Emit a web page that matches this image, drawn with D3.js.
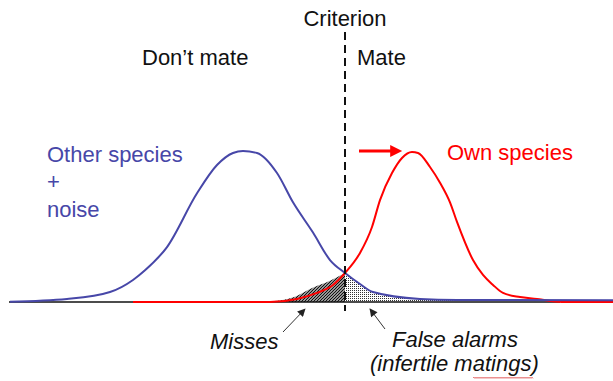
<!DOCTYPE html>
<html>
<head>
<meta charset="utf-8">
<script src="https://cdn.jsdelivr.net/npm/d3@7"></script>
<style>
    body { margin: 0; background: #fff; }
    svg { display: block; }
    text { font-family: "Liberation Sans", Arial, sans-serif; font-size: 22px; }
</style>
</head>
<body>
<svg id="chart" width="613" height="381"></svg>
<script>
// signal strength (arbitrary units) and relative frequency
const otherX = [0, 5.7, 10.0, 12.3, 13.5, 15.7, 18.7, 20.7, 22.3, 23.3, 24.7, 26.7, 28.3, 30.3, 32.0, 33.5, 35.0, 36.3, 41.0, 44.7, 60.3];
const otherY = [0.002, 0.02, 0.066, 0.146, 0.21, 0.364, 0.72, 0.907, 0.987, 1.0, 0.987, 0.854, 0.66, 0.46, 0.278, 0.192, 0.119, 0.066, 0.02, 0.013, 0.012];

const ownX = [12.3, 26.0, 28.7, 30.7, 32.3, 33.5, 35.0, 36.2, 37.0, 38.2, 39.2, 40.2, 40.8, 42.0, 43.0, 44.0, 44.7, 46.3, 47.3, 48.3, 49.3, 51.0, 52.7, 54.0, 55.5, 60.3];
const ownY = [0, 0, 0.02, 0.06, 0.113, 0.192, 0.325, 0.497, 0.675, 0.854, 0.954, 0.993, 0.987, 0.894, 0.79, 0.66, 0.53, 0.278, 0.179, 0.113, 0.06, 0.033, 0.02, 0.007, 0, 0];

// top edge of the hatched "misses" patch
const missesX = [25.5, 28.5, 30.0, 32.0, 33.5];
const missesY = [0, 0.035, 0.086, 0.14, 0.192];

const criterion = 33.5;
const falseAlarmEnd = 46;
const axisStart = 0, axisEnd = 55;

const otherData = otherX.map((x, i) => ({ x: x, y: otherY[i] }));
const ownData = ownX.map((x, i) => ({ x: x, y: ownY[i] }));
const missesData = missesX.map((x, i) => ({ x: x, y: missesY[i] }));

const blue = '#4747a8',
    red = '#ff0000';

const x = d3.scaleLinear().domain([0, 60.3]).range([10, 613]);
const y = d3.scaleLinear().domain([0, 1]).range([302, 151]);

const svg = d3.select('#chart');
const defs = svg.append('defs');

// hatch for misses
defs.append('pattern')
    .attr('id', 'hatch')
    .attr('patternUnits', 'userSpaceOnUse')
    .attr('width', 3)
    .attr('height', 3)
    .append('path')
    .attr('d', 'M-1,1 L1,-1 M0,3 L3,0 M2,4 L4,2')
    .attr('stroke', '#111')
    .attr('stroke-width', 1.3);

// stipple for false alarms
defs.append('pattern')
    .attr('id', 'dots')
    .attr('patternUnits', 'userSpaceOnUse')
    .attr('width', 2)
    .attr('height', 2)
    .append('rect')
    .attr('width', 1)
    .attr('height', 1)
    .attr('fill', '#333');

defs.append('clipPath').attr('id', 'rightOfCrit')
    .append('rect')
    .attr('x', x(criterion)).attr('y', 0)
    .attr('width', x(falseAlarmEnd) - x(criterion)).attr('height', y(0) + 2);

function arrowHead(id, colour, w, h, refX) {
    defs.append('marker')
        .attr('id', id)
        .attr('viewBox', '0 0 10 10')
        .attr('refX', refX)
        .attr('refY', 5)
        .attr('markerUnits', 'userSpaceOnUse')
        .attr('markerWidth', w)
        .attr('markerHeight', h)
        .attr('orient', 'auto')
        .append('path')
        .attr('d', 'M0,0 L10,5 L0,10 z')
        .attr('fill', colour);
}
arrowHead('headBlack', '#222', 10, 8, 9);
arrowHead('headRed', red, 13, 12, 2);

const area = d3.area()
    .curve(d3.curveMonotoneX)
    .x((d) => x(d.x))
    .y0(y(0))
    .y1((d) => y(d.y));

const line = d3.line()
    .curve(d3.curveMonotoneX)
    .x((d) => x(d.x))
    .y((d) => y(d.y));

//shaded tails
svg.append('path')
    .datum(missesData)
    .attr('d', area)
    .attr('fill', 'url(#hatch)');

svg.append('path')
    .datum(otherData)
    .attr('d', area)
    .attr('fill', 'url(#dots)')
    .attr('clip-path', 'url(#rightOfCrit)');

//baseline
svg.append('line')
    .attr('x1', x(axisStart) - 1)
    .attr('x2', x(axisEnd))
    .attr('y1', y(0))
    .attr('y2', y(0))
    .attr('stroke', '#111')
    .attr('stroke-width', 1.5);

//curves
svg.append('path')
    .datum(ownData)
    .attr('d', line)
    .attr('fill', 'none')
    .attr('stroke', red)
    .attr('stroke-width', 2);

svg.append('path')
    .datum(otherData)
    .attr('d', line)
    .attr('fill', 'none')
    .attr('stroke', blue)
    .attr('stroke-width', 2);

//criterion
svg.append('line')
    .attr('x1', x(criterion))
    .attr('x2', x(criterion))
    .attr('y1', 32)
    .attr('y2', 311)
    .attr('stroke', '#111')
    .attr('stroke-width', 2)
    .attr('stroke-dasharray', '8,5');

//labels
const labels = [
    { t: 'Criterion', x: x(criterion), y: 26, anchor: 'middle', fill: '#111', style: 'normal' },
    { t: 'Don\u2019t mate', x: 142, y: 65, anchor: 'start', fill: '#111', style: 'normal' },
    { t: 'Mate', x: 357, y: 65, anchor: 'start', fill: '#111', style: 'normal' },
    { t: 'Other species', x: 47, y: 162, anchor: 'start', fill: blue, style: 'normal' },
    { t: '+', x: 47, y: 189, anchor: 'start', fill: blue, style: 'normal' },
    { t: 'noise', x: 47, y: 217, anchor: 'start', fill: blue, style: 'normal' },
    { t: 'Own species', x: 447, y: 160, anchor: 'start', fill: red, style: 'normal' },
    { t: 'Misses', x: 210, y: 349, anchor: 'start', fill: '#111', style: 'italic' },
    { t: 'False alarms', x: 392, y: 347, anchor: 'start', fill: '#111', style: 'italic' },
    { t: '(infertile matings)', x: 370, y: 371, anchor: 'start', fill: '#111', style: 'italic' }
];

svg.append('g')
    .selectAll('text')
    .data(labels)
    .join('text')
    .attr('x', (d) => d.x)
    .attr('y', (d) => d.y)
    .attr('text-anchor', (d) => d.anchor)
    .attr('fill', (d) => d.fill)
    .attr('font-style', (d) => d.style)
    .text((d) => d.t);

//pointer arrows
svg.append('line')
    .attr('x1', 283).attr('y1', 332)
    .attr('x2', 305).attr('y2', 309)
    .attr('stroke', '#333').attr('stroke-width', 1)
    .attr('marker-end', 'url(#headBlack)');

svg.append('line')
    .attr('x1', 385).attr('y1', 329)
    .attr('x2', 370).attr('y2', 309)
    .attr('stroke', '#333').attr('stroke-width', 1)
    .attr('marker-end', 'url(#headBlack)');

svg.append('line')
    .attr('x1', 359).attr('y1', 151)
    .attr('x2', 392.6).attr('y2', 151)
    .attr('stroke', red).attr('stroke-width', 3)
    .attr('marker-end', 'url(#headRed)');

// spell-check squiggle under "matings"
let sq = 'M473,378';
for (let i = 473; i < 532; i += 2) {
    sq += ' L' + (i + 1) + ',' + 377 + ' L' + (i + 2) + ',' + 378.5;
}
svg.append('path')
    .attr('d', sq)
    .attr('fill', 'none')
    .attr('stroke', '#e05050')
    .attr('stroke-width', 0.7);
</script>
</body>
</html>
